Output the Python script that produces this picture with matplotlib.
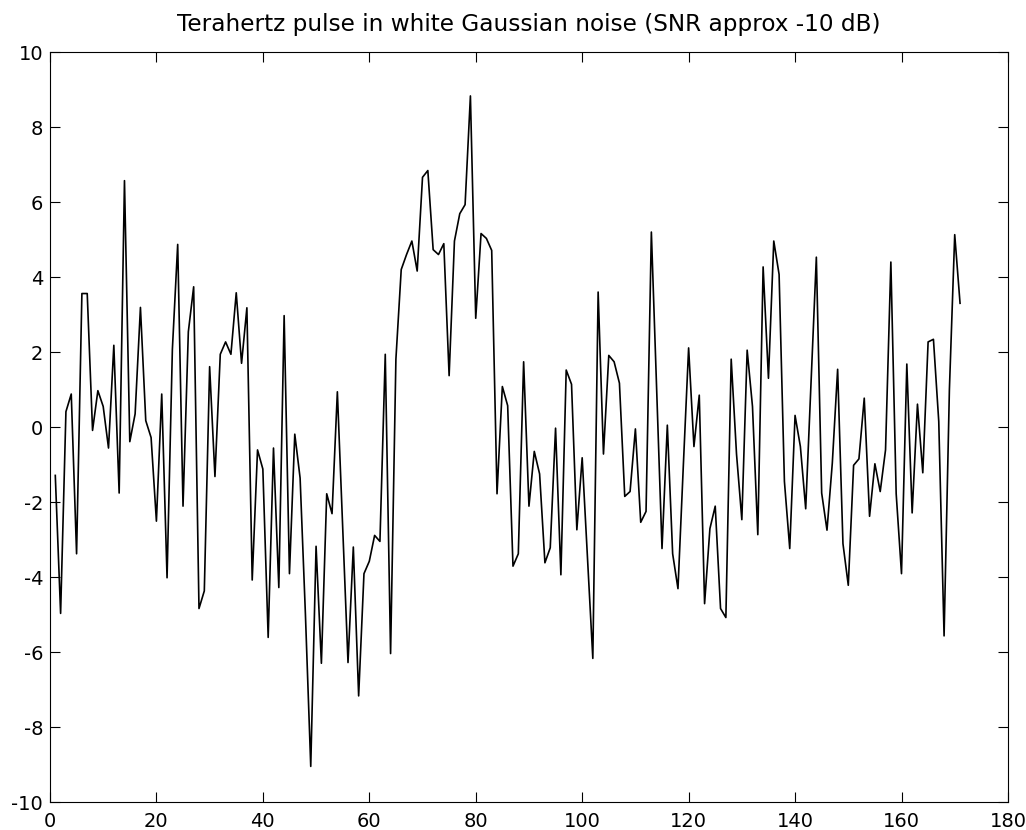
import numpy as np
import matplotlib
matplotlib.use("Agg")
from matplotlib import pyplot as plt

# sample index and noisy pulse values
n = np.arange(1, 172)
signal = [
    -1.29, -4.97, 0.41, 0.88, -3.38, 3.56, 3.56, -0.09, 0.97, 0.55,
    -0.56, 2.18, -1.76, 6.57, -0.39, 0.35, 3.19, 0.17, -0.28, -2.51,
    0.88, -4.02, 2.07, 4.87, -2.11, 2.54, 3.74, -4.84, -4.37, 1.61,
    -1.32, 1.94, 2.27, 1.94, 3.58, 1.70, 3.18, -4.08, -0.61, -1.12,
    -5.61, -0.56, -4.28, 2.97, -3.91, -0.19, -1.36, -5.0, -9.05, -3.18,
    -6.30, -1.78, -2.31, 0.94, -2.7, -6.28, -3.20, -7.17, -3.91, -3.58,
    -2.89, -3.05, 1.94, -6.04, 1.81, 4.20, 4.60, 4.96, 4.16, 6.66,
    6.84, 4.73, 4.60, 4.89, 1.37, 4.96, 5.69, 5.93, 8.83, 2.90,
    5.16, 5.03, 4.71, -1.78, 1.08, 0.57, -3.71, -3.38, 1.74, -2.11,
    -0.65, -1.25, -3.62, -3.22, -0.03, -3.94, 1.52, 1.14, -2.74, -0.82,
    -3.5, -6.17, 3.60, -0.72, 1.91, 1.74, 1.17, -1.85, -1.72, -0.05,
    -2.54, -2.25, 5.20, 1.0, -3.24, 0.05, -3.38, -4.31, -1.05, 2.11,
    -0.52, 0.85, -4.71, -2.71, -2.11, -4.84, -5.08, 1.81, -0.72, -2.47,
    2.05, 0.55, -2.87, 4.27, 1.30, 4.96, 4.07, -1.45, -3.24, 0.31,
    -0.52, -2.18, 1.2, 4.53, -1.76, -2.75, -0.96, 1.54, -3.11, -4.22,
    -1.02, -0.85, 0.77, -2.38, -0.98, -1.72, -0.61, 4.40, -1.78, -3.91,
    1.68, -2.29, 0.61, -1.22, 2.27, 2.34, 0.15, -5.57, 1.0, 5.13,
    3.30,
]

plt.rcParams['font.family'] = ['DejaVu Sans']
plt.rcParams['axes.unicode_minus'] = False

fig = plt.figure(figsize=(10.26, 8.3), dpi=100)
ax = fig.add_axes([0.0487, 0.0337, 0.9337, 0.9036])

ax.plot(n, signal, color='black', linewidth=1.2)
ax.set_xlim(0, 180)
ax.set_ylim(-10, 10)
ax.set_xticks(np.arange(0, 181, 20))
ax.set_yticks(np.arange(-10, 11, 2))
ax.tick_params(direction='in', top=True, right=True, labelsize=14, length=7)
ax.tick_params(axis='x', pad=7)
ax.tick_params(axis='y', pad=5)
ax.set_title('Terahertz pulse in white Gaussian noise (SNR approx -10 dB)',
             fontsize=16.7, pad=15)

fig.savefig('out.png', dpi=100)
